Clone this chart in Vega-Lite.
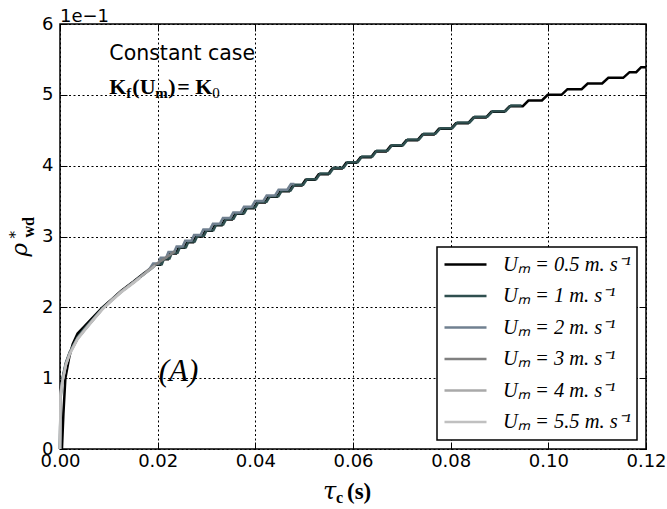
{
"$schema":"https://vega.github.io/schema/vega-lite/v6.json",
"width":586,"height":425,
"autosize":{"type":"none"},
"padding":{"left":60,"top":24,"right":21,"bottom":60},
"background":"white",
"config":{
 "view":{"stroke":"#000","strokeWidth":1.5},
 "axis":{"labelFont":"DejaVu Sans","labelFontSize":18,"labelColor":"#000","tickColor":"#000","tickWidth":1,"domain":false,"gridColor":"#000","gridDash":[1.5,3],"gridOpacity":1,"gridWidth":1,"labelOverlap":false,"labelFlush":false},
 "legend":{"strokeWidth":1.5}
},
"data":{"values":[
{"U":"0.5","t":0.0004,"r":0},{"U":"0.5","t":0.0007,"r":0.5},{"U":"0.5","t":0.0011,"r":1.0},{"U":"0.5","t":0.0019,"r":1.3},{"U":"0.5","t":0.0026,"r":1.48},{"U":"0.5","t":0.0036,"r":1.63},{"U":"0.5","t":0.005,"r":1.73},{"U":"0.5","t":0.0065,"r":1.84},{"U":"0.5","t":0.0087,"r":2.0},{"U":"0.5","t":0.0107,"r":2.12},{"U":"0.5","t":0.0125,"r":2.23},{"U":"0.5","t":0.015,"r":2.36},{"U":"0.5","t":0.0172,"r":2.48},{"U":"0.5","t":0.0188,"r":2.56},
{"U":"0.5","t":0.01947,"r":2.60},{"U":"0.5","t":0.02055,"r":2.60},
{"U":"0.5","t":0.02101,"r":2.68},{"U":"0.5","t":0.02213,"r":2.68},
{"U":"0.5","t":0.02261,"r":2.76},{"U":"0.5","t":0.02378,"r":2.76},
{"U":"0.5","t":0.02428,"r":2.84},{"U":"0.5","t":0.02550,"r":2.84},
{"U":"0.5","t":0.02603,"r":2.92},{"U":"0.5","t":0.02730,"r":2.92},
{"U":"0.5","t":0.02785,"r":3.00},{"U":"0.5","t":0.02918,"r":3.00},
{"U":"0.5","t":0.02975,"r":3.08},{"U":"0.5","t":0.03112,"r":3.08},
{"U":"0.5","t":0.03171,"r":3.16},{"U":"0.5","t":0.03314,"r":3.16},
{"U":"0.5","t":0.03376,"r":3.24},{"U":"0.5","t":0.03524,"r":3.24},
{"U":"0.5","t":0.03588,"r":3.32},{"U":"0.5","t":0.03742,"r":3.32},
{"U":"0.5","t":0.03808,"r":3.40},{"U":"0.5","t":0.03968,"r":3.40},
{"U":"0.5","t":0.04036,"r":3.48},{"U":"0.5","t":0.04201,"r":3.48},
{"U":"0.5","t":0.04272,"r":3.56},{"U":"0.5","t":0.04443,"r":3.56},
{"U":"0.5","t":0.04516,"r":3.64},{"U":"0.5","t":0.04693,"r":3.64},
{"U":"0.5","t":0.04769,"r":3.72},{"U":"0.5","t":0.04951,"r":3.72},
{"U":"0.5","t":0.05029,"r":3.80},{"U":"0.5","t":0.05217,"r":3.80},
{"U":"0.5","t":0.05298,"r":3.88},{"U":"0.5","t":0.05492,"r":3.88},
{"U":"0.5","t":0.05575,"r":3.96},{"U":"0.5","t":0.05775,"r":3.96},
{"U":"0.5","t":0.05861,"r":4.04},{"U":"0.5","t":0.06067,"r":4.04},
{"U":"0.5","t":0.06156,"r":4.12},{"U":"0.5","t":0.06368,"r":4.12},
{"U":"0.5","t":0.06459,"r":4.20},{"U":"0.5","t":0.06677,"r":4.20},
{"U":"0.5","t":0.06771,"r":4.28},{"U":"0.5","t":0.06996,"r":4.28},
{"U":"0.5","t":0.07092,"r":4.36},{"U":"0.5","t":0.07322,"r":4.36},
{"U":"0.5","t":0.07421,"r":4.44},{"U":"0.5","t":0.07658,"r":4.44},
{"U":"0.5","t":0.07760,"r":4.52},{"U":"0.5","t":0.08004,"r":4.52},
{"U":"0.5","t":0.08108,"r":4.60},{"U":"0.5","t":0.08358,"r":4.60},
{"U":"0.5","t":0.08465,"r":4.68},{"U":"0.5","t":0.08722,"r":4.68},
{"U":"0.5","t":0.08832,"r":4.76},{"U":"0.5","t":0.09094,"r":4.76},
{"U":"0.5","t":0.09207,"r":4.84},{"U":"0.5","t":0.09477,"r":4.84},
{"U":"0.5","t":0.09593,"r":4.92},{"U":"0.5","t":0.09869,"r":4.92},
{"U":"0.5","t":0.09987,"r":5.00},{"U":"0.5","t":0.10270,"r":5.00},
{"U":"0.5","t":0.10392,"r":5.08},{"U":"0.5","t":0.10682,"r":5.08},
{"U":"0.5","t":0.10806,"r":5.16},{"U":"0.5","t":0.11102,"r":5.16},
{"U":"0.5","t":0.11229,"r":5.24},{"U":"0.5","t":0.11533,"r":5.24},
{"U":"0.5","t":0.11663,"r":5.32},{"U":"0.5","t":0.11800,"r":5.32},
{"U":"0.5","t":0.11900,"r":5.39},{"U":"0.5","t":0.12,"r":5.39},
{"U":"1","t":0,"r":0},{"U":"1","t":0.0001,"r":0.7},{"U":"1","t":0.0005,"r":1.0},{"U":"1","t":0.0012,"r":1.22},{"U":"1","t":0.002,"r":1.37},{"U":"1","t":0.0036,"r":1.58},{"U":"1","t":0.005,"r":1.7},{"U":"1","t":0.0067,"r":1.83},{"U":"1","t":0.0087,"r":1.99},{"U":"1","t":0.0107,"r":2.11},{"U":"1","t":0.0125,"r":2.22},{"U":"1","t":0.015,"r":2.35},{"U":"1","t":0.0172,"r":2.47},{"U":"1","t":0.0189,"r":2.56},
{"U":"1","t":0.01977,"r":2.61},{"U":"1","t":0.02085,"r":2.61},
{"U":"1","t":0.02131,"r":2.69},{"U":"1","t":0.02243,"r":2.69},
{"U":"1","t":0.02291,"r":2.77},{"U":"1","t":0.02408,"r":2.77},
{"U":"1","t":0.02458,"r":2.85},{"U":"1","t":0.02580,"r":2.85},
{"U":"1","t":0.02633,"r":2.93},{"U":"1","t":0.02760,"r":2.93},
{"U":"1","t":0.02815,"r":3.01},{"U":"1","t":0.02948,"r":3.01},
{"U":"1","t":0.03005,"r":3.09},{"U":"1","t":0.03142,"r":3.09},
{"U":"1","t":0.03201,"r":3.17},{"U":"1","t":0.03344,"r":3.17},
{"U":"1","t":0.03406,"r":3.25},{"U":"1","t":0.03554,"r":3.25},
{"U":"1","t":0.03618,"r":3.33},{"U":"1","t":0.03772,"r":3.33},
{"U":"1","t":0.03838,"r":3.41},{"U":"1","t":0.03998,"r":3.41},
{"U":"1","t":0.04066,"r":3.49},{"U":"1","t":0.04231,"r":3.49},
{"U":"1","t":0.04302,"r":3.57},{"U":"1","t":0.04473,"r":3.57},
{"U":"1","t":0.04546,"r":3.65},{"U":"1","t":0.04723,"r":3.65},
{"U":"1","t":0.04799,"r":3.73},{"U":"1","t":0.04981,"r":3.73},
{"U":"1","t":0.05059,"r":3.81},{"U":"1","t":0.05247,"r":3.81},
{"U":"1","t":0.05328,"r":3.89},{"U":"1","t":0.05522,"r":3.89},
{"U":"1","t":0.05605,"r":3.97},{"U":"1","t":0.05805,"r":3.97},
{"U":"1","t":0.05891,"r":4.05},{"U":"1","t":0.06097,"r":4.05},
{"U":"1","t":0.06186,"r":4.13},{"U":"1","t":0.06398,"r":4.13},
{"U":"1","t":0.06489,"r":4.21},{"U":"1","t":0.06707,"r":4.21},
{"U":"1","t":0.06801,"r":4.29},{"U":"1","t":0.07026,"r":4.29},
{"U":"1","t":0.07122,"r":4.37},{"U":"1","t":0.07352,"r":4.37},
{"U":"1","t":0.07451,"r":4.45},{"U":"1","t":0.07688,"r":4.45},
{"U":"1","t":0.07790,"r":4.53},{"U":"1","t":0.08034,"r":4.53},
{"U":"1","t":0.08138,"r":4.61},{"U":"1","t":0.08388,"r":4.61},
{"U":"1","t":0.08495,"r":4.69},{"U":"1","t":0.08752,"r":4.69},
{"U":"1","t":0.08862,"r":4.77},{"U":"1","t":0.09124,"r":4.77},
{"U":"1","t":0.09237,"r":4.85},{"U":"1","t":0.0945,"r":4.85},
{"U":"2","t":0,"r":0},{"U":"2","t":0.0001,"r":0.8},{"U":"2","t":0.0006,"r":1.0},{"U":"2","t":0.0012,"r":1.2},{"U":"2","t":0.002,"r":1.36},{"U":"2","t":0.0036,"r":1.56},{"U":"2","t":0.005,"r":1.68},{"U":"2","t":0.0067,"r":1.82},{"U":"2","t":0.0087,"r":1.98},{"U":"2","t":0.0107,"r":2.11},{"U":"2","t":0.0125,"r":2.22},{"U":"2","t":0.015,"r":2.35},{"U":"2","t":0.0172,"r":2.47},{"U":"2","t":0.0184,"r":2.55},
{"U":"2","t":0.01907,"r":2.62},{"U":"2","t":0.02015,"r":2.62},
{"U":"2","t":0.02061,"r":2.70},{"U":"2","t":0.02173,"r":2.70},
{"U":"2","t":0.02221,"r":2.78},{"U":"2","t":0.02338,"r":2.78},
{"U":"2","t":0.02388,"r":2.86},{"U":"2","t":0.02510,"r":2.86},
{"U":"2","t":0.02563,"r":2.94},{"U":"2","t":0.02690,"r":2.94},
{"U":"2","t":0.02745,"r":3.02},{"U":"2","t":0.02878,"r":3.02},
{"U":"2","t":0.02935,"r":3.10},{"U":"2","t":0.03072,"r":3.10},
{"U":"2","t":0.03131,"r":3.18},{"U":"2","t":0.03274,"r":3.18},
{"U":"2","t":0.03336,"r":3.26},{"U":"2","t":0.03484,"r":3.26},
{"U":"2","t":0.03548,"r":3.34},{"U":"2","t":0.03702,"r":3.34},
{"U":"2","t":0.03768,"r":3.42},{"U":"2","t":0.03928,"r":3.42},
{"U":"2","t":0.03996,"r":3.50},{"U":"2","t":0.04161,"r":3.50},
{"U":"2","t":0.04232,"r":3.58},{"U":"2","t":0.04403,"r":3.58},
{"U":"2","t":0.04476,"r":3.66},{"U":"2","t":0.04653,"r":3.66},
{"U":"2","t":0.04729,"r":3.74},{"U":"2","t":0.048,"r":3.74},
{"U":"3","t":0,"r":0},{"U":"3","t":0.0001,"r":0.8},{"U":"3","t":0.0006,"r":1.0},{"U":"3","t":0.0012,"r":1.2},{"U":"3","t":0.002,"r":1.36},{"U":"3","t":0.0036,"r":1.56},{"U":"3","t":0.005,"r":1.68},{"U":"3","t":0.0067,"r":1.82},{"U":"3","t":0.0087,"r":1.98},{"U":"3","t":0.0107,"r":2.11},{"U":"3","t":0.0125,"r":2.22},{"U":"3","t":0.015,"r":2.35},{"U":"3","t":0.0165,"r":2.43},{"U":"3","t":0.018,"r":2.52},{"U":"3","t":0.0195,"r":2.6},{"U":"3","t":0.021,"r":2.67},{"U":"3","t":0.0225,"r":2.74},{"U":"3","t":0.0235,"r":2.79},
{"U":"4","t":0,"r":0},{"U":"4","t":0.0001,"r":0.78},{"U":"4","t":0.0006,"r":0.99},{"U":"4","t":0.0012,"r":1.19},{"U":"4","t":0.002,"r":1.35},{"U":"4","t":0.0036,"r":1.56},{"U":"4","t":0.005,"r":1.68},{"U":"4","t":0.0067,"r":1.82},{"U":"4","t":0.0087,"r":1.98},{"U":"4","t":0.0107,"r":2.11},{"U":"4","t":0.0125,"r":2.22},{"U":"4","t":0.015,"r":2.35},{"U":"4","t":0.0165,"r":2.43},{"U":"4","t":0.018,"r":2.51},{"U":"4","t":0.0195,"r":2.59},
{"U":"5.5","t":0,"r":0},{"U":"5.5","t":0.0001,"r":0.75},{"U":"5.5","t":0.0006,"r":0.98},{"U":"5.5","t":0.0012,"r":1.18},{"U":"5.5","t":0.002,"r":1.34},{"U":"5.5","t":0.0036,"r":1.55},{"U":"5.5","t":0.005,"r":1.67},{"U":"5.5","t":0.0067,"r":1.81},{"U":"5.5","t":0.0087,"r":1.97},{"U":"5.5","t":0.0107,"r":2.1},{"U":"5.5","t":0.0125,"r":2.21},{"U":"5.5","t":0.015,"r":2.34},{"U":"5.5","t":0.0165,"r":2.42}
]},
"layer":[
 {"mark":{"type":"line","strokeWidth":2.5},
  "encoding":{
   "x":{"field":"t","type":"quantitative","scale":{"domain":[0,0.12],"nice":false,"zero":false},
        "axis":{"orient":"bottom","values":[0,0.02,0.04,0.06,0.08,0.1,0.12],"format":".2f","tickSize":-7,"labelPadding":10,"grid":true,"title":null}},
   "y":{"field":"r","type":"quantitative","scale":{"domain":[0,6],"nice":false},
        "axis":{"orient":"left","values":[0,1,2,3,4,5,6],"format":"d","tickSize":-7,"labelPadding":14,"grid":true,"title":null}},
   "color":{"field":"U","type":"nominal",
     "scale":{"domain":["0.5","1","2","3","4","5.5"],"range":["#000000","#2f4f4f","#708090","#808080","#a9a9a9","#c0c0c0"]},
     "legend":{"title":null,"orient":"bottom-right","offset":9,"fillColor":"#ffffff","strokeColor":"#000000","padding":6,"cornerRadius":0,
       "symbolType":"stroke","symbolSize":1764,"symbolStrokeWidth":2.5,"clipHeight":23,"rowPadding":8.5,
       "labelFont":"Liberation Serif","labelFontStyle":"italic","labelFontSize":20.5,"labelColor":"#000","labelOffset":15,
       "labelExpr":"'Uₘ = ' + datum.label + ' m. s⁻¹'"}}
  }},
 {"mark":{"type":"point","opacity":0},
  "encoding":{
   "x":{"field":"t","type":"quantitative","axis":{"orient":"top","values":[0,0.02,0.04,0.06,0.08,0.1,0.12],"labels":false,"grid":true,"tickSize":-7,"title":null}},
   "y":{"field":"r","type":"quantitative","axis":{"orient":"right","values":[0,1,2,3,4,5,6],"labels":false,"grid":true,"tickSize":-7,"title":null}}
  }},
 {"data":{"values":[{}]},"mark":{"type":"text","text":"Constant case","font":"DejaVu Sans","fontSize":20.5,"align":"left","baseline":"alphabetic","color":"#000"},
  "encoding":{"x":{"datum":0.0101,"type":"quantitative","axis":null},"y":{"datum":5.49,"type":"quantitative","axis":null}}},
 {"data":{"values":[{}]},"mark":{"type":"text","text":"K","font":"Liberation Serif","fontWeight":"bold","fontSize":22,"align":"left","baseline":"alphabetic","color":"#000"},
  "encoding":{"x":{"datum":0.0101,"type":"quantitative","axis":null},"y":{"datum":5.01,"type":"quantitative","axis":null}}},
 {"data":{"values":[{}]},"mark":{"type":"text","text":"f","font":"Liberation Serif","fontWeight":"bold","fontSize":15,"align":"left","baseline":"alphabetic","dx":17,"dy":4,"color":"#000"},
  "encoding":{"x":{"datum":0.0101,"type":"quantitative","axis":null},"y":{"datum":5.01,"type":"quantitative","axis":null}}},
 {"data":{"values":[{}]},"mark":{"type":"text","text":"(U","font":"Liberation Serif","fontWeight":"bold","fontSize":22,"align":"left","baseline":"alphabetic","dx":23,"color":"#000"},
  "encoding":{"x":{"datum":0.0101,"type":"quantitative","axis":null},"y":{"datum":5.01,"type":"quantitative","axis":null}}},
 {"data":{"values":[{}]},"mark":{"type":"text","text":"m","font":"Liberation Serif","fontWeight":"bold","fontSize":15,"align":"left","baseline":"alphabetic","dx":46,"dy":4,"color":"#000"},
  "encoding":{"x":{"datum":0.0101,"type":"quantitative","axis":null},"y":{"datum":5.01,"type":"quantitative","axis":null}}},
 {"data":{"values":[{}]},"mark":{"type":"text","text":")","font":"Liberation Serif","fontWeight":"bold","fontSize":22,"align":"left","baseline":"alphabetic","dx":59,"color":"#000"},
  "encoding":{"x":{"datum":0.0101,"type":"quantitative","axis":null},"y":{"datum":5.01,"type":"quantitative","axis":null}}},
 {"data":{"values":[{}]},"mark":{"type":"text","text":"=","font":"Liberation Serif","fontWeight":"bold","fontSize":22,"align":"left","baseline":"alphabetic","dx":68,"color":"#000"},
  "encoding":{"x":{"datum":0.0101,"type":"quantitative","axis":null},"y":{"datum":5.01,"type":"quantitative","axis":null}}},
 {"data":{"values":[{}]},"mark":{"type":"text","text":"K","font":"Liberation Serif","fontWeight":"bold","fontSize":22,"align":"left","baseline":"alphabetic","dx":86,"color":"#000"},
  "encoding":{"x":{"datum":0.0101,"type":"quantitative","axis":null},"y":{"datum":5.01,"type":"quantitative","axis":null}}},
 {"data":{"values":[{}]},"mark":{"type":"text","text":"0","font":"Liberation Serif","fontSize":15,"align":"left","baseline":"alphabetic","dx":103,"dy":4,"color":"#000"},
  "encoding":{"x":{"datum":0.0101,"type":"quantitative","axis":null},"y":{"datum":5.01,"type":"quantitative","axis":null}}},
 {"data":{"values":[{}]},"mark":{"type":"text","text":"(A)","font":"Liberation Serif","fontStyle":"italic","fontSize":31,"align":"left","baseline":"alphabetic","color":"#000"},
  "encoding":{"x":{"datum":0.0202,"type":"quantitative","axis":null},"y":{"datum":0.96,"type":"quantitative","axis":null}}},
 {"data":{"values":[{}]},"mark":{"type":"text","text":"1e−1","font":"DejaVu Sans","fontSize":18,"align":"left","baseline":"alphabetic","dy":-2,"color":"#000"},
  "encoding":{"x":{"datum":0,"type":"quantitative","axis":null},"y":{"datum":6,"type":"quantitative","axis":null}}},
 {"data":{"values":[{}]},"mark":{"type":"text","text":"τ","font":"DejaVu Serif","fontStyle":"italic","fontSize":24,"align":"left","baseline":"alphabetic","dx":-30,"dy":50,"color":"#000"},
  "encoding":{"x":{"datum":0.06,"type":"quantitative","axis":null},"y":{"datum":0,"type":"quantitative","axis":null}}},
 {"data":{"values":[{}]},"mark":{"type":"text","text":"c","font":"Liberation Serif","fontWeight":"bold","fontSize":16,"align":"left","baseline":"alphabetic","dx":-17,"dy":54,"color":"#000"},
  "encoding":{"x":{"datum":0.06,"type":"quantitative","axis":null},"y":{"datum":0,"type":"quantitative","axis":null}}},
 {"data":{"values":[{}]},"mark":{"type":"text","text":"(s)","font":"Liberation Serif","fontWeight":"bold","fontSize":23,"align":"left","baseline":"alphabetic","dx":-6,"dy":50,"color":"#000"},
  "encoding":{"x":{"datum":0.06,"type":"quantitative","axis":null},"y":{"datum":0,"type":"quantitative","axis":null}}},
 {"data":{"values":[{}]},"mark":{"type":"text","text":"ρ","font":"DejaVu Serif","fontStyle":"italic","fontSize":23,"align":"left","baseline":"alphabetic","angle":270,"dx":-20,"dy":-33,"color":"#000"},
  "encoding":{"x":{"datum":0,"type":"quantitative","axis":null},"y":{"datum":3,"type":"quantitative","axis":null}}},
 {"data":{"values":[{}]},"mark":{"type":"text","text":"*","font":"DejaVu Serif","fontSize":15,"align":"left","baseline":"alphabetic","angle":270,"dx":-2,"dy":-40,"color":"#000"},
  "encoding":{"x":{"datum":0,"type":"quantitative","axis":null},"y":{"datum":3,"type":"quantitative","axis":null}}},
 {"data":{"values":[{}]},"mark":{"type":"text","text":"wd","font":"Liberation Serif","fontWeight":"bold","fontSize":16,"align":"left","baseline":"alphabetic","angle":270,"dx":-1,"dy":-26,"color":"#000"},
  "encoding":{"x":{"datum":0,"type":"quantitative","axis":null},"y":{"datum":3,"type":"quantitative","axis":null}}}
],
"resolve":{"axis":{"x":"independent","y":"independent"}}
}
